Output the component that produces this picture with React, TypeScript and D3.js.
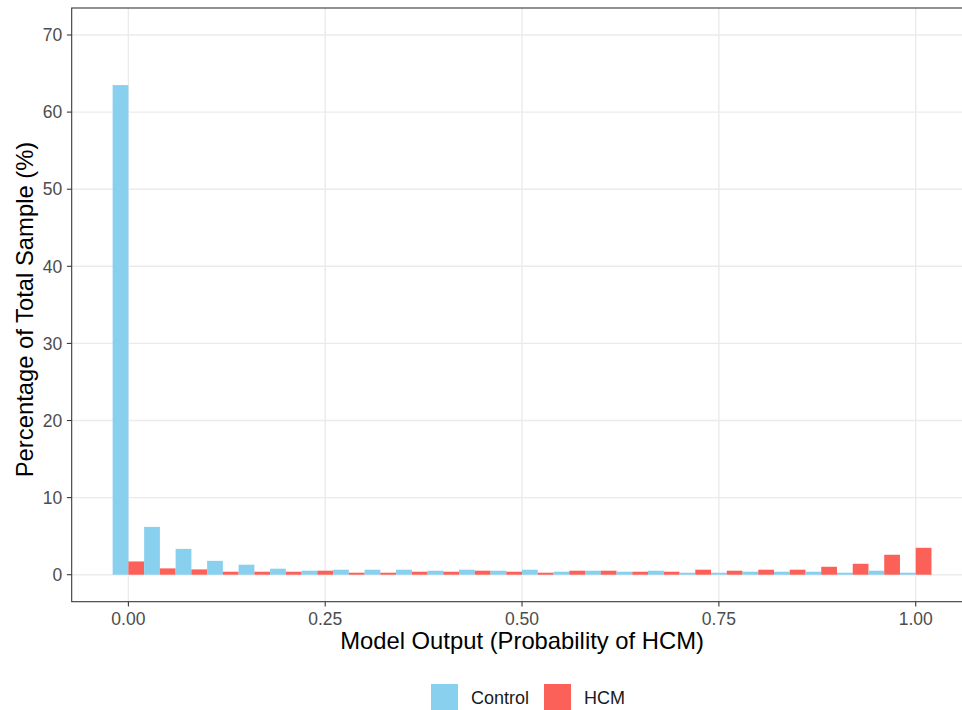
import React, { useEffect, useRef } from "react";
import { select, scaleLinear } from "d3";

// bin centres of the histogram (binwidth 0.04)
const binCenters = [
  0, 0.04, 0.08, 0.12, 0.16, 0.2, 0.24, 0.28, 0.32, 0.36, 0.4, 0.44, 0.48,
  0.52, 0.56, 0.6, 0.64, 0.68, 0.72, 0.76, 0.8, 0.84, 0.88, 0.92, 0.96, 1.0,
];

// percentage of total sample per bin
const controlPct = [
  63.5, 6.2, 3.35, 1.8, 1.3, 0.78, 0.52, 0.65, 0.65, 0.65, 0.52, 0.65, 0.52,
  0.65, 0.39, 0.52, 0.39, 0.52, 0.26, 0.26, 0.39, 0.39, 0.39, 0.26, 0.52, 0.26,
];
const hcmPct = [
  1.72, 0.82, 0.69, 0.39, 0.39, 0.39, 0.52, 0.26, 0.26, 0.39, 0.39, 0.52, 0.39,
  0.26, 0.52, 0.52, 0.39, 0.39, 0.65, 0.52, 0.65, 0.65, 1.03, 1.42, 2.59, 3.49,
];

const xTicks = [0, 0.25, 0.5, 0.75, 1];
const xTickLabels = ["0.00", "0.25", "0.50", "0.75", "1.00"];
const yTicks = [0, 10, 20, 30, 40, 50, 60, 70];

const groups = ["Control", "HCM"];
const colors = ["#89CFEE", "#FB6158"];

const W = 962;
const H = 710;
const font = "'Liberation Sans', Arial, Helvetica, sans-serif";

function App() {
  const ref = useRef<SVGSVGElement>(null);

  // panel (right edge lies past the picture, as in the original crop)
  const left = 71.7,
    right = 972.4,
    top = 8,
    bottom = 601.7;
  const binW = 0.04;

  useEffect(() => {
    document.body.style.margin = "0";
    const svg = select(ref.current);
    svg.selectAll("*").remove();

    const x = scaleLinear().domain([-0.072, 1.072]).range([left, right]);
    const y = scaleLinear().domain([-3.5, 73.5]).range([bottom, top]);

    const g = svg.append("g");

    // grid
    g.selectAll(".gy")
      .data(yTicks)
      .join("line")
      .attr("x1", left)
      .attr("x2", right)
      .attr("y1", (d) => y(d))
      .attr("y2", (d) => y(d))
      .attr("stroke", "#EBEBEB")
      .attr("stroke-width", 1.4);
    g.selectAll(".gx")
      .data(xTicks)
      .join("line")
      .attr("y1", top)
      .attr("y2", bottom)
      .attr("x1", (d) => x(d))
      .attr("x2", (d) => x(d))
      .attr("stroke", "#EBEBEB")
      .attr("stroke-width", 1.4);

    // bars: control dodged left, HCM dodged right
    const bars = binCenters.flatMap((c, i) => [
      { x0: c - binW / 2, x1: c, v: controlPct[i], k: 0 },
      { x0: c, x1: c + binW / 2, v: hcmPct[i], k: 1 },
    ]);
    g.selectAll(".bar")
      .data(bars)
      .join("rect")
      .attr("x", (d) => x(d.x0))
      .attr("width", (d) => x(d.x1) - x(d.x0))
      .attr("y", (d) => y(d.v))
      .attr("height", (d) => y(0) - y(d.v))
      .attr("fill", (d) => colors[d.k]);

    // panel border
    g.append("rect")
      .attr("x", left)
      .attr("y", top)
      .attr("width", right - left)
      .attr("height", bottom - top)
      .attr("fill", "none")
      .attr("stroke", "#333333")
      .attr("stroke-width", 1.07);

    // y axis
    g.selectAll(".ty")
      .data(yTicks)
      .join("line")
      .attr("x1", left - 4.8)
      .attr("x2", left)
      .attr("y1", (d) => y(d))
      .attr("y2", (d) => y(d))
      .attr("stroke", "#333333")
      .attr("stroke-width", 1.07);
    g.selectAll(".ly")
      .data(yTicks)
      .join("text")
      .attr("x", left - 9.5)
      .attr("y", (d) => y(d))
      .attr("dy", "0.36em")
      .attr("text-anchor", "end")
      .attr("font-family", font)
      .attr("font-size", 17.5)
      .attr("fill", "#4D4D4D")
      .text((d) => String(d));

    // x axis
    g.selectAll(".tx")
      .data(xTicks)
      .join("line")
      .attr("x1", (d) => x(d))
      .attr("x2", (d) => x(d))
      .attr("y1", bottom)
      .attr("y2", bottom + 4.8)
      .attr("stroke", "#333333")
      .attr("stroke-width", 1.07);
    g.selectAll(".lx")
      .data(xTicks)
      .join("text")
      .attr("x", (d) => x(d))
      .attr("y", 625)
      .attr("text-anchor", "middle")
      .attr("font-family", font)
      .attr("font-size", 17.5)
      .attr("fill", "#4D4D4D")
      .text((d, i) => xTickLabels[i]);

    // titles
    g.append("text")
      .attr("x", (left + right) / 2)
      .attr("y", 648.5)
      .attr("text-anchor", "middle")
      .attr("font-family", font)
      .attr("font-size", 23.8)
      .attr("fill", "#000")
      .text("Model Output (Probability of HCM)");
    g.append("text")
      .attr("transform", "translate(32.5,309.5) rotate(-90)")
      .attr("text-anchor", "middle")
      .attr("font-family", font)
      .attr("font-size", 23.8)
      .attr("fill", "#000")
      .text("Percentage of Total Sample (%)");

    // legend
    const keyX = [431, 544];
    const leg = g
      .selectAll(".leg")
      .data(groups)
      .join("g")
      .attr("transform", (d, i) => `translate(${keyX[i]},684)`);
    leg
      .append("rect")
      .attr("width", 27)
      .attr("height", 27)
      .attr("fill", (d, i) => colors[i]);
    leg
      .append("text")
      .attr("x", 40)
      .attr("y", 20.3)
      .attr("font-family", font)
      .attr("font-size", 18)
      .attr("fill", "#1A1A1A")
      .text((d) => d);
  }, []);

  return (
    <svg
      ref={ref}
      width={W}
      height={H}
      style={{ display: "block", background: "#fff" }}
    />
  );
}

export default App;
